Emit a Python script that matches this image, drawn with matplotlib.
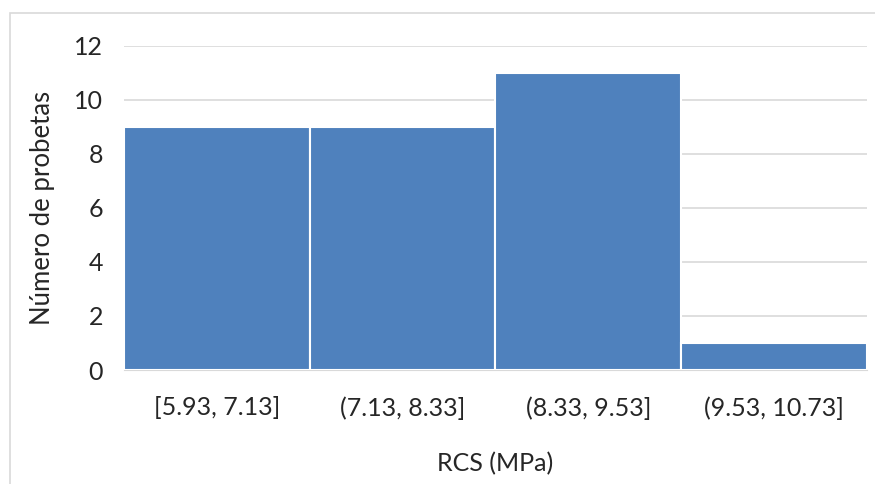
import matplotlib
matplotlib.use("Agg")
import matplotlib.pyplot as plt
from matplotlib.patches import Rectangle

categories = ["[5.93, 7.13]", "(7.13, 8.33]", "(8.33, 9.53]", "(9.53, 10.73]"]
counts = [9, 9, 11, 1]
y_ticks = [0, 2, 4, 6, 8, 10, 12]

plt.rcParams["font.family"] = ["Lato", "DejaVu Sans"]

fig = plt.figure(figsize=(8.75, 4.84), dpi=100)
ax = fig.add_axes([0.1417, 0.2355, 0.849, 0.670])

# outer chart border
fig.add_artist(Rectangle((10 / 875, -0.05), 1.1, (484 - 13) / 484 + 0.05,
                         transform=fig.transFigure, fill=False,
                         edgecolor="#d9d9d9", linewidth=1.2))

x = range(len(categories))
ax.bar(x, counts, width=1.0, color="#4f81bd", edgecolor="white",
       linewidth=1.5, zorder=3)

ax.set_xlim(-0.5, len(categories) - 0.5)
ax.set_ylim(0, 12)
ax.set_yticks(y_ticks)
ax.set_xticks(list(x))
ax.set_xticklabels(categories)
ax.grid(axis="y", color="#d9d9d9", linewidth=1.2, zorder=0)
for s in ["top", "right", "left"]:
    ax.spines[s].set_visible(False)
ax.spines["bottom"].set_color("#d9d9d9")
ax.tick_params(axis="both", length=0, labelsize=18, colors="#262626")
ax.tick_params(axis="x", pad=19)
ax.tick_params(axis="y", pad=15)

ax.set_xlabel("RCS (MPa)", fontsize=18, color="#262626", labelpad=23)
ax.set_ylabel("Número de probetas", fontsize=18.5, color="#262626", labelpad=14)

fig.savefig("out.png", dpi=100, facecolor="white")
